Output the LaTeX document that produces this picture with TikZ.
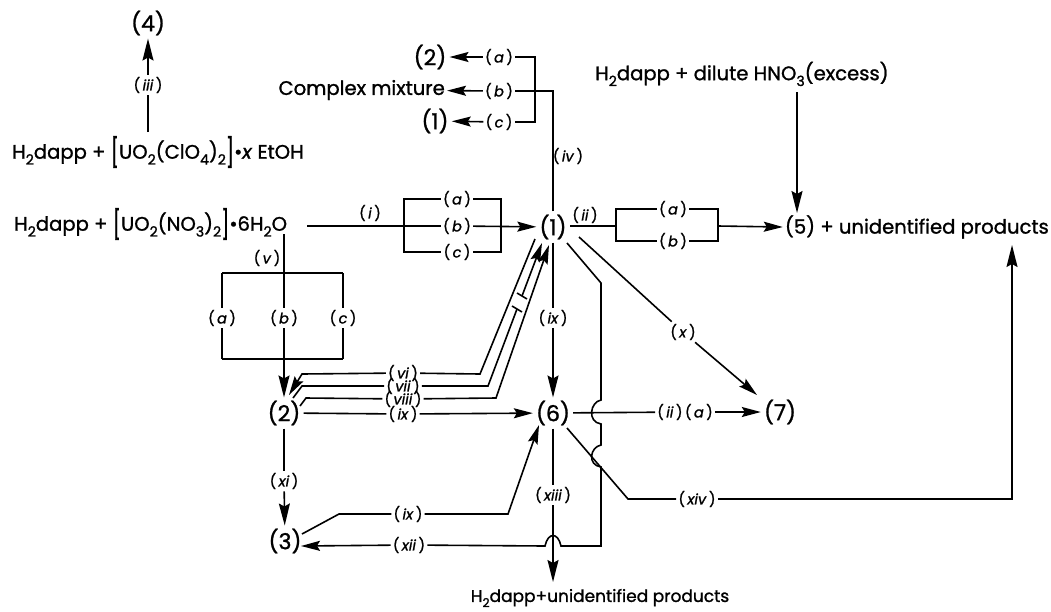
\documentclass[tikz,border=0pt]{standalone}
\usepackage{fontspec}
\setmainfont[FakeBold=1.2]{Poppins}
\usetikzlibrary{arrows.meta}
\newcommand{\sbs}[1]{\raisebox{-0.3em}{\scalebox{.72}{#1}}}
\newcommand{\lbk}{\raisebox{-0.2em}{\scalebox{1}[1.45]{[}}}
\newcommand{\rbk}{\raisebox{-0.2em}{\scalebox{1}[1.45]{]}}}
\newcommand{\rl}[1]{(\,\textit{#1}\,)}
\tikzset{
  chem/.style={inner sep=2pt,font=\fontsize{19.6}{22}\selectfont},
  chemsmall/.style={inner sep=2pt,font=\fontsize{17}{18}\selectfont},
  num/.style={inner sep=3pt,font=\fontsize{22}{24}\selectfont},
  rlab/.style={inner sep=2pt,font=\fontsize{14.5}{15}\selectfont},
  conn/.style={line width=1.6pt},
  arr/.style={line width=1.6pt,-{Stealth[length=19pt,width=10pt,inset=3pt]}},
  arrlong/.style={line width=1.6pt,-{Stealth[length=22pt,width=11pt,inset=3pt]}},
}
\begin{document}
\begin{tikzpicture}[x=1pt,y=-1pt]
\useasboundingbox (0,0) rectangle (1051,611);
% compounds
\node[num] (n4) at (148,23) {(4)};
\node[chem,anchor=west] (f1) at (10,152) {H\sbs{2}dapp + \lbk UO\sbs{2}(ClO\sbs{4})\sbs{2}\rbk\textbullet\textit{x} EtOH};
\node[chem,anchor=west] (f2) at (12,224) {H\sbs{2}dapp + \lbk UO\sbs{2}(NO\sbs{3})\sbs{2}\rbk\textbullet 6H\sbs{2}O};
\node[num] (t2) at (430,57) {(2)};
\node[chem,anchor=east] (cm) at (447,90) {Complex mixture};
\node[num] (t1) at (435,121) {(1)};
\node[chem,anchor=west] (f3) at (593,74) {H\sbs{2}dapp + dilute HNO\sbs{3}(excess)};
\node[chem,anchor=east] (p5) at (1051,227) {(5) + unidentified products};
\node[num] (n1) at (553,227) {(1)};
\node[num] (n2) at (284,413) {(2)};
\node[num] (n3) at (285,541) {(3)};
\node[num] (n6) at (553,413) {(6)};
\node[num] (n7) at (780,412) {(7)};
\node[chemsmall,anchor=center] (f4) at (600,598) {H\sbs{2}dapp+unidentified products};
% reagent labels
\node[rlab] (iii) at (148,85) {\rl{iii}};
\node[rlab] (topa) at (499,57) {\rl{a}};
\node[rlab] (topb) at (499,91) {\rl{b}};
\node[rlab] (topc) at (499,122) {\rl{c}};
\node[rlab] (iv) at (568,156) {\rl{iv}};
\node[rlab] (i) at (370,213) {\rl{i}};
\node[rlab] (ia) at (457,199) {\rl{a}};
\node[rlab] (ib) at (457,226) {\rl{b}};
\node[rlab] (ic) at (457,252) {\rl{c}};
\node[rlab] (ii) at (585,215) {\rl{ii}};
\node[rlab] (iia) at (673,209) {\rl{a}};
\node[rlab] (iib) at (673,241) {\rl{b}};
\node[rlab] (v) at (267,258) {\rl{v}};
\node[rlab] (va) at (222,318) {\rl{a}};
\node[rlab] (vb) at (284,318) {\rl{b}};
\node[rlab] (vc) at (343,318) {\rl{c}};
\node[rlab] (vi) at (403,373) {\rl{vi}};
\node[rlab] (vii) at (403,386) {\rl{vii}};
\node[rlab] (viii) at (403,399) {\rl{viii}};
\node[rlab] (ixa) at (403,414) {\rl{ix}};
\node[rlab] (ixb) at (553,318) {\rl{ix}};
\node[rlab] (ixc) at (408,514) {\rl{ix}};
\node[rlab] (x) at (683,332) {\rl{x}};
\node[rlab] (iiaa) at (685,412) {\rl{ii}\,\rl{a}};
\node[rlab] (xi) at (284,481) {\rl{xi}};
\node[rlab] (xii) at (409,545) {\rl{xii}};
\node[rlab] (xiii) at (553,495) {\rl{xiii}};
\node[rlab] (xiv) at (697,499) {\rl{xiv}};
% way points
\coordinate (f1top) at (148,132);
\coordinate (topR) at (535,91);
\coordinate (topC) at (553,91);
\coordinate (iL) at (404,226);
\coordinate (iR) at (501,226);
\coordinate (iistart) at (570,226);
\coordinate (iiL) at (616,226);
\coordinate (iiR) at (718,226);
\coordinate (o2) at (284,234);
\coordinate (vtop) at (284,273);
\coordinate (vbot) at (284,359);
% (iii)
\draw[conn] (f1top) -- (iii);
\draw[arrlong] (iii) -- (n4);
% (iv)
\draw[conn] (n1) -- (iv.west -| n1) -- (topC) -- (topb);
\draw[conn] (topa) -- (topa -| topR) -- (topc -| topR) -- (topc);
\draw[arr] (topa) -- (t2);
\draw[arr] (topb) -- (cm);
\draw[arr] (topc) -- (t1);
% (i)
\coordinate (istart) at (307,226);
\draw[conn] (istart) -- (ib);
\draw[conn] (ia) -- (ia -| iL) -- (ic -| iL) -- (ic);
\draw[conn] (ia) -- (ia -| iR) -- (ic -| iR) -- (ic);
\draw[arr] (ib) -- (n1);
% (ii)
\draw[conn] (iistart) -- (iiL);
\draw[conn] (iia) -- (iia -| iiL) -- (iib -| iiL) -- (iib);
\draw[conn] (iia) -- (iia -| iiR) -- (iib -| iiR) -- (iib);
\draw[arr] (iiR) -- (p5.west);
\coordinate (hno) at (797,92);
\coordinate (five) at (797,213);
\draw[arrlong] (hno) -- (five);
% (v)
\draw[conn] (o2) -- (vb);
\draw[arrlong] (vb) -- (n2);
\draw[conn] (vtop -| va) -- (vtop -| vc);
\draw[conn] (vtop -| va) -- (va);
\draw[conn] (vtop -| vc) -- (vc);
\draw[conn] (vbot -| va) -- (vbot -| vc);
\draw[conn] (vbot -| va) -- (va);
\draw[conn] (vbot -| vc) -- (vc);
% (vi)-(viii)
\coordinate (a1) at (535,239);
\coordinate (a2) at (480,374);
\coordinate (a3) at (302,374);
\coordinate (a4) at (289,395);
\draw[conn] (a1) -- (a2) -- (vi);
\draw[arr] (vi) -- (a3) -- (a4);
\coordinate (b1) at (542,243);
\coordinate (b2) at (488,386);
\coordinate (b3) at (302,386);
\coordinate (b4) at (293,398);
\coordinate (bu) at (522,296);
\coordinate (bv) at (517,309);
\coordinate (bu1) at (517,293);
\coordinate (bu2) at (527,299);
\coordinate (bv1) at (512,306);
\coordinate (bv2) at (522,312);
\draw[conn] (b4) -- (b3) -- (vii);
\draw[conn] (vii) -- (b2) -- (bv);
\draw[arr] (bu) -- (b1);
\draw[conn] (bu1) -- (bu2);
\draw[conn] (bv1) -- (bv2);
\coordinate (c1) at (549,245);
\coordinate (c2) at (496,398);
\coordinate (c3) at (306,398);
\coordinate (c4) at (300,406);
\draw[conn] (c4) -- (c3) -- (viii);
\draw[arr] (viii) -- (c2) -- (c1);
% (ix)
\draw[conn] (n2) -- (ixa);
\draw[arr] (ixa) -- (n6);
\draw[conn] (n1) -- (ixb);
\draw[arrlong] (ixb) -- (n6);
\coordinate (d1) at (302,534);
\coordinate (d2) at (339,514);
\coordinate (d3) at (508,514);
\coordinate (d4) at (539,425);
\draw[conn] (d1) -- (d2) -- (ixc);
\draw[arr] (ixc) -- (d3) -- (d4);
% (x)
\coordinate (e1) at (579,237);
\coordinate (e2) at (757,395);
\draw[conn] (e1) -- (x);
\draw[arr] (x) -- (e2);
% (ii)(a)
\draw[conn] (n6) -- (iiaa);
\draw[arr] (iiaa) -- (n7);
% (xi)
\draw[conn] (n2) -- (xi);
\draw[arrlong] (xi) -- (n3);
% (xiii)
\draw[conn] (n6) -- (xiii);
\coordinate (f4top) at (553,582);
\draw[arrlong] (xiii) -- (f4top);
% (xiv)
\coordinate (g1) at (567,428);
\coordinate (g2) at (628,499);
\coordinate (g3) at (1012,499);
\coordinate (g4) at (1012,245);
\draw[conn] (g1) -- (g2) -- (xiv);
\draw[arrlong] (xiv) -- (g3) -- (g4);
% (xii) with bumps
\coordinate (h1) at (567,243);
\coordinate (h2) at (601,283);
\coordinate (h3) at (601,400);
\coordinate (h4) at (601,424);
\coordinate (h5) at (601,445);
\coordinate (h6) at (601,467);
\coordinate (h7) at (601,546);
\coordinate (h8) at (561,546);
\coordinate (h9) at (545,546);
\coordinate (h10) at (301,546);
\draw[conn] (h1) -- (h2) -- (h3)
  .. controls (590,402) and (587,422) .. (h4) -- (h5)
  .. controls (590,447) and (587,465) .. (h6) -- (h7) -- (h8)
  .. controls (558,532) and (548,532) .. (h9) -- (xii);
\draw[arr] (xii) -- (h10);
\end{tikzpicture}
\end{document}
